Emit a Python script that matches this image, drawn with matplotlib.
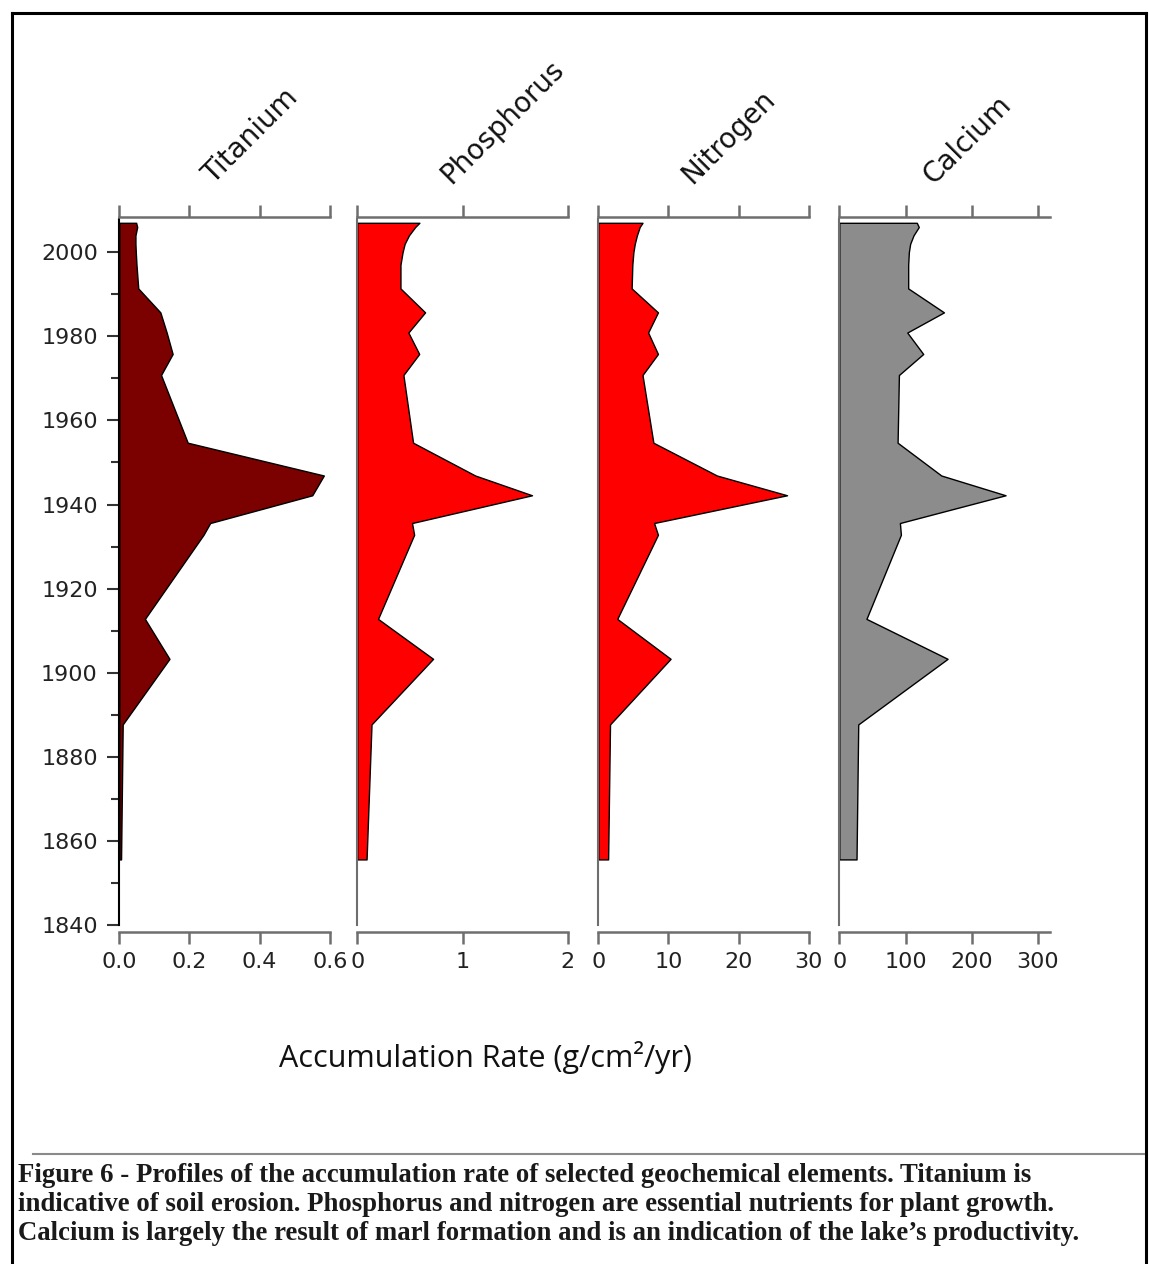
import matplotlib
matplotlib.use('Agg')
import matplotlib.pyplot as plt
from matplotlib.lines import Line2D

W, H = 1149, 1264

years = [2007, 2006, 2004, 2002, 2000, 1997, 1991.4, 1985.7, 1980.9, 1975.8, 1970.8,
         1954.7, 1946.9, 1942.2, 1935.6, 1932.8, 1912.8, 1903.3, 1887.7, 1855.6]

titanium = [0.048, 0.051, 0.046, 0.046, 0.047, 0.049, 0.054, 0.117, 0.135, 0.152, 0.119,
            0.195, 0.583, 0.55, 0.259, 0.24, 0.073, 0.143, 0.0097, 0.005]
phosphorus = [0.59, 0.55, 0.49, 0.45, 0.43, 0.41, 0.41, 0.644, 0.485, 0.588, 0.438,
              0.53, 1.12, 1.66, 0.52, 0.54, 0.197, 0.72, 0.135, 0.088]
nitrogen = [6.3, 5.9, 5.5, 5.2, 5.0, 4.85, 4.75, 8.5, 7.1, 8.5, 6.3,
            7.85, 16.9, 26.9, 7.95, 8.5, 2.7, 10.3, 1.67, 1.4]
calcium = [117, 120, 112, 107, 105, 104, 104, 158, 102.6, 126.7, 90,
           88, 154, 251, 91.5, 93, 41, 163.5, 28.6, 26]

names = ['Titanium', 'Phosphorus', 'Nitrogen', 'Calcium']
series = [titanium, phosphorus, nitrogen, calcium]
colors = ['#7b0000', '#ff0000', '#ff0000', '#8c8c8c']
xticks = [[0, 0.2, 0.4, 0.6], [0, 1, 2], [0, 10, 20, 30], [0, 100, 200, 300]]
xticklabels = [['0.0', '0.2', '0.4', '0.6'], ['0', '1', '2'], ['0', '10', '20', '30'],
               ['0', '100', '200', '300']]
xlims = [0.6, 2, 30, 317.8]

year_ticks = [1840, 1860, 1880, 1900, 1920, 1940, 1960, 1980, 2000]
year_minor = [1850, 1870, 1890, 1910, 1930, 1950, 1970, 1990]

xlabel = 'Accumulation Rate (g/cm\u00b2/yr)'
caption = ['Figure 6 - Profiles of the accumulation rate of selected geochemical elements. Titanium is',
           'indicative of soil erosion. Phosphorus and nitrogen are essential nutrients for plant growth.',
           'Calcium is largely the result of marl formation and is an indication of the lake\u2019s productivity.']


def fx(px):
    return px / W


def fy(py):
    return 1 - py / H


fig = plt.figure(figsize=(W / 100, H / 100), dpi=100)
fig.patch.set_facecolor('white')

panel_left = [119.3, 357.3, 598.3, 839.3]
bottom = fy(925)
height = fy(218.6) - bottom
spine_grey = '#6e6e6e'

for i, name in enumerate(names):
    ax = fig.add_axes([fx(panel_left[i]), bottom, 210.5 / W, height])
    ax.fill_betweenx(years, 0, series[i], facecolor=colors[i], edgecolor='black', linewidth=1.0)
    ax.set_ylim(1840, 2008)
    ax.set_xlim(0, xlims[i])
    ax.patch.set_alpha(0)

    ax.spines['right'].set_visible(False)
    for s in ['top', 'bottom']:
        ax.spines[s].set_color(spine_grey)
        ax.spines[s].set_linewidth(1.8)
    ax.spines['bottom'].set_position(('outward', 5))
    ax.spines['top'].set_position(('outward', 1))

    ax.set_xticks(xticks[i])
    ax.set_xticklabels(xticklabels[i])
    ax.tick_params(axis='x', which='both', top=True, bottom=True, labeltop=False,
                   direction='out', length=8.5, width=1.8, color=spine_grey,
                   labelsize=16, labelcolor='#222222', pad=6)

    if i == 0:
        ax.spines['left'].set_color('black')
        ax.spines['left'].set_linewidth(1.5)
        ax.set_yticks(year_ticks)
        ax.set_yticks(year_minor, minor=True)
        ax.tick_params(axis='y', which='major', length=8.5, width=1.5, color='#333333',
                       labelsize=16, labelcolor='#222222', pad=7)
        ax.tick_params(axis='y', which='minor', length=5.5, width=1.5, color='#333333')
    else:
        ax.spines['left'].set_color(spine_grey)
        ax.spines['left'].set_linewidth(1.5)
        ax.set_yticks([])

    fig.text(fx(panel_left[i] + 94), fy(185), name, rotation=45, rotation_mode='anchor',
             ha='left', va='baseline', fontsize=20, color='#111111')

fig.text(fx(485), fy(1058), xlabel, ha='center', va='center', fontsize=22,
         family='Open Sans', color='#111111')

# frame and separator
fig.add_artist(Line2D([fx(12), fx(1146)], [fy(13), fy(13)], color='black', lw=2.2))
fig.add_artist(Line2D([fx(12), fx(12)], [fy(13), fy(1264)], color='black', lw=2.2))
fig.add_artist(Line2D([fx(1146), fx(1146)], [fy(13), fy(1264)], color='black', lw=2.2))
fig.add_artist(Line2D([fx(33), fx(1144)], [fy(1154), fy(1154)], color='#8a8a8a', lw=1.5))

for k, line in enumerate(caption):
    fig.text(fx(18), fy(1175 + 29.5 * k), line, ha='left', va='center', fontsize=19.3,
             family='Liberation Serif', fontweight='bold', color='#1a1a1a')

fig.savefig('out.png', dpi=100, facecolor='white')
